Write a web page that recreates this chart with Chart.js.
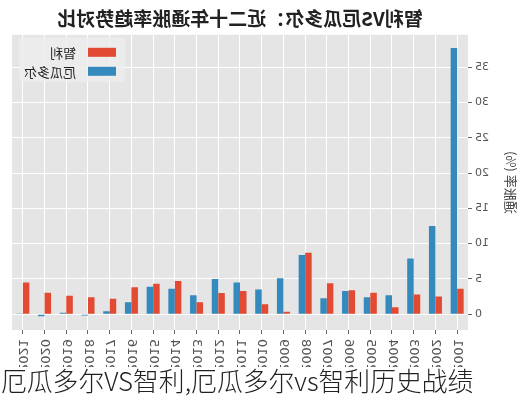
<!DOCTYPE html>
<html>
<head>
<meta charset="utf-8">
<script src="https://cdn.jsdelivr.net/npm/chart.js@4.4.0/dist/chart.umd.min.js"></script>
<style>
  html, body { margin: 0; padding: 0; background: #fff; }
  #page { position: relative; width: 523px; height: 400px; overflow: hidden; }
  #mirror { position: absolute; left: 0; top: 0; width: 523px; height: 390px; transform: scaleX(-1); }
  #caption {
    position: absolute; left: 0; top: 367px; width: 523px; height: 33px; background: #fff;
    font-family: "Noto Sans CJK SC", sans-serif; font-weight: 300; padding-left: 1px;
    font-size: 25.8px; line-height: 26px; color: #222; white-space: nowrap;
  }
</style>
</head>
<body>
<div id="page">
  <div id="mirror"><canvas id="chart" width="523" height="390"></canvas></div>
  <div id="caption">厄瓜多尔VS智利,厄瓜多尔vs智利历史战绩</div>
</div>
<script>
const years = ["2001", "2002", "2003", "2004", "2005", "2006", "2007", "2008", "2009", "2010", "2011",
  "2012", "2013", "2014", "2015", "2016", "2017", "2018", "2019", "2020", "2021"];
const chile = [3.6, 2.5, 2.8, 1.0, 3.05, 3.4, 4.4, 8.7, 0.35, 1.4, 3.3,
  3.0, 1.7, 4.7, 4.3, 3.8, 2.2, 2.4, 2.6, 3.05, 4.5];
const ecuador = [37.7, 12.5, 7.9, 2.7, 2.4, 3.3, 2.25, 8.4, 5.1, 3.5, 4.5,
  5.0, 2.7, 3.6, 3.9, 1.7, 0.4, -0.2, 0.2, -0.3, 0.1];
const yTicks = [0, 5, 10, 15, 20, 25, 30, 35];

const cjk = '"Noto Sans CJK SC", sans-serif';
const latin = '"DejaVu Sans", sans-serif';

// grey ggplot-style panel behind the bars
const panelBg = {
  id: "panelBg",
  beforeDraw(chart) {
    const { ctx, chartArea: a } = chart;
    ctx.save();
    ctx.fillStyle = "#E5E5E5";
    ctx.fillRect(a.left, a.top, a.right - a.left, a.bottom - a.top);
    ctx.restore();
  }
};

// legend box inside the panel, upper right
const innerLegend = {
  id: "innerLegend",
  afterDraw(chart) {
    const { ctx, chartArea: a } = chart;
    const x = a.right - 113, y = a.top + 3, w = 106, h = 44;
    ctx.save();
    ctx.fillStyle = "rgba(238,238,238,0.8)";
    ctx.beginPath();
    ctx.roundRect(x, y, w, h, 3);
    ctx.fill();
    ctx.font = "13px " + cjk;
    ctx.textBaseline = "middle";
    chart.data.datasets.forEach((ds, i) => {
      const cy = y + 14.5 + i * 19;
      ctx.fillStyle = ds.backgroundColor;
      ctx.fillRect(x + 9, cy - 4.5, 28, 9);
      ctx.fillStyle = "#222";
      ctx.fillText(ds.label, x + 49, cy + 0.5);
    });
    ctx.restore();
  }
};

new Chart(document.getElementById("chart"), {
  type: "bar",
  data: {
    labels: years,
    datasets: [
      { label: "智利", data: chile, backgroundColor: "#E24A33" },
      { label: "厄瓜多尔", data: ecuador, backgroundColor: "#348ABD" }
    ]
  },
  options: {
    responsive: false,
    animation: false,
    devicePixelRatio: 1,
    layout: { padding: { left: 0, right: 12, top: 0, bottom: 0 } },
    datasets: { bar: { barPercentage: 1, categoryPercentage: 0.6 } },
    plugins: {
      legend: { display: false },
      tooltip: { enabled: false },
      title: {
        display: true,
        fullSize: false,
        text: "智利VS厄瓜多尔：近二十年通胀率趋势对比",
        color: "#222",
        font: { family: cjk, size: 19, weight: "bold" },
        padding: { top: 7, bottom: 5 }
      }
    },
    scales: {
      x: {
        offset: true,
        grid: { offset: false, color: "#fff", lineWidth: 1, tickColor: "#666", tickLength: 4 },
        border: { display: false },
        ticks: {
          autoSkip: false, maxRotation: 90, minRotation: 90, padding: 5,
          color: "#555", font: { family: latin, size: 13 }
        },
        afterFit(s) { s.height = 60; }
      },
      y: {
        min: -2.24,
        max: 39.58,
        afterBuildTicks(s) { s.ticks = yTicks.map(v => ({ value: v })); },
        grid: { color: "#fff", lineWidth: 1, tickColor: "#666", tickLength: 4 },
        border: { display: false },
        ticks: { padding: 3, color: "#555", font: { family: latin, size: 11 } },
        title: {
          display: true, text: "通胀率 (%)", color: "#444",
          font: { family: cjk, size: 13 }, padding: { top: 4, bottom: 0 }
        },
        afterFit(s) { s.width = 55; }
      }
    }
  },
  plugins: [panelBg, innerLegend]
});
</script>
</body>
</html>
